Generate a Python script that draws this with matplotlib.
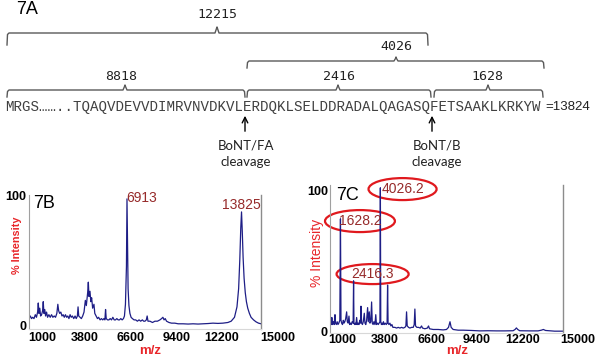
import matplotlib
matplotlib.use("Agg")
import matplotlib.pyplot as plt
import matplotlib.transforms as mtransforms
from matplotlib.patches import Ellipse

plt.rcParams['font.family'] = ['Liberation Sans', 'DejaVu Sans']

# ---- 7A: sequence map ----
seq_text = "MRGS……..TQAQVDEVVDIMRVNVDKVLERDQKLSELDDRADALQAGASQFETSAAKLKRKYW"
seq_mass = "=13824"
frag_labels = ["12215", "4026", "8818", "2416", "1628"]
cleave_labels = ["BoNT/FA\ncleavage", "BoNT/B\ncleavage"]

# ---- 7B: spectrum (m/z, % intensity) ----
b_mz = [1000, 1080, 1150, 1220, 1300, 1380, 1450, 1520, 1560, 1600, 1650, 1700, 1760, 1820, 1860,
        1900, 1950, 2000, 2060, 2120, 2200, 2280, 2360, 2440, 2520, 2600, 2680, 2740, 2790, 2850,
        2920, 2990, 3060, 3130, 3200, 3270, 3340, 3410, 3480, 3550, 3620, 3700, 3780, 3850, 3920,
        3960, 4000, 4080, 4160, 4240, 4320, 4400, 4460, 4540, 4580, 4620, 4680, 4730, 4780, 4840,
        4920, 4970, 5050, 5130, 5200, 5290, 5370, 5450, 5520, 5580, 5620, 5660, 5740, 5820, 5900,
        5980, 6060, 6140, 6220, 6300, 6380, 6460, 6540, 6620, 6700, 6760, 6820, 6880, 6913, 6945,
        6980, 7030, 7090, 7160, 7240, 7340, 7440, 7540, 7640, 7740, 7840, 7920, 8000, 8080, 8130,
        8180, 8300, 8450, 8600, 8750, 8900, 9000, 9080, 9150, 9220, 9300, 9450, 9600, 9800, 10000,
        10300, 10600, 10900, 11200, 11500, 11800, 12100, 12400, 12700, 13000, 13200, 13400, 13550,
        13650, 13720, 13780, 13825, 13870, 13920, 13980, 14050, 14120, 14200, 14300, 14400, 14550,
        14700, 14850, 15000]
b_int = [5, 7, 5, 6, 5, 8, 6, 10, 17, 9, 13, 7, 8, 11, 18,
         9, 12, 7, 10, 6, 8, 6, 8, 6, 7, 6, 9, 16, 11, 9,
         10, 7, 8, 6, 8, 6, 7, 5, 8, 6, 7, 5, 7, 5, 7,
         14, 7, 6, 5, 7, 10, 19, 15, 25, 33, 22, 26, 18, 21, 13,
         16, 9, 7, 5, 6, 4, 5, 4, 5, 4, 12, 5, 4, 4, 5,
         4, 6, 4, 4, 5, 4, 4, 5, 4, 5, 7, 16, 45, 97, 65,
         28, 15, 9, 6, 5, 4, 4, 3, 4, 3, 4, 3, 3, 4, 7,
         3, 3, 2, 3, 3, 4, 5, 6, 4, 5, 3, 2, 1.5, 1.5, 1,
         1, 0.8, 1, 0.8, 1, 1.2, 1.5, 1.3, 1.5, 2, 3, 6, 14,
         28, 50, 75, 87, 72, 52, 36, 25, 18, 13, 9, 6, 4,
         2.5, 1.5, 1]
b_peaks = ["6913", "13825"]
b_peak_mz = [6913, 13825]

# ---- 7C: spectrum ----
c_mz = [1000, 1040, 1080, 1110, 1140, 1200, 1250, 1300, 1330, 1380, 1430, 1480, 1530, 1590, 1628,
        1660, 1700, 1750, 1800, 1840, 1890, 1940, 2000, 2040, 2090, 2140, 2180, 2230, 2280, 2330,
        2390, 2416, 2440, 2480, 2520, 2560, 2600, 2640, 2690, 2740, 2790, 2830, 2860, 2900, 2950,
        3000, 3060, 3100, 3150, 3200, 3260, 3300, 3360, 3400, 3450, 3500, 3540, 3590, 3640, 3700,
        3750, 3790, 3850, 3900, 3950, 4000, 4026, 4050, 4090, 4130, 4170, 4210, 4260, 4320, 4380,
        4430, 4460, 4490, 4540, 4600, 4660, 4720, 4780, 4900, 5000, 5100, 5200, 5300, 5400, 5500,
        5560, 5600, 5640, 5720, 5800, 5900, 6000, 6060, 6100, 6140, 6220, 6320, 6420, 6500, 6560,
        6700, 6850, 6920, 6980, 7200, 7500, 7800, 8000, 8120, 8210, 8280, 8400, 8700, 9000, 9500,
        10000, 10500, 11000, 11500, 12000, 12120, 12200, 12280, 12400, 13000, 13500, 13700, 13820,
        13950, 14500, 15000]
c_int = [4, 6, 5, 10, 5, 7, 5, 12, 6, 5, 7, 5, 6, 8, 80,
         8, 6, 5, 8, 6, 7, 9, 14, 7, 6, 11, 5, 6, 5, 7,
         6, 36, 6, 5, 6, 5, 10, 5, 6, 5, 8, 6, 18, 6, 5,
         7, 13, 6, 5, 8, 17, 7, 14, 6, 7, 21, 6, 5, 7, 5,
         12, 5, 6, 5, 6, 7, 102, 7, 5, 6, 5, 7, 5, 6, 5,
         6, 33, 6, 5, 6, 4, 5, 3, 3, 2.5, 3, 2.5, 3, 2.5, 3,
         4, 14, 4, 3, 2.5, 3, 3, 5, 16, 4, 3, 3, 2.5, 4, 2.5,
         2, 2.5, 4, 2, 1.5, 1.5, 1.2, 1.5, 3, 7, 3, 1.5, 1, 1, 0.8,
         0.5, 0.6, 0.5, 0.5, 0.6, 1.5, 2.6, 1.5, 0.6, 0.5, 0.5, 1, 1.5,
         0.8, 0.3, 0.3]
c_peaks = ["1628.2", "2416.3", "4026.2"]

xticks = [1000, 3800, 6600, 9400, 12200, 15000]

line_col = '#1e1e86'
red = '#e8262a'
peak_col = '#962a2a'

fig = plt.figure(figsize=(6, 3.59), dpi=100)

# top panel drawn in pixel space
top = fig.add_axes([0, 0, 1, 1])
top.set_xlim(0, 600)
top.set_ylim(359, 0)
top.axis('off')

top.text(27, 10, "7A", fontsize=13, ha='center', va='center')

def brace(x0, x1, xc, y, drop, rise, label, ly, lx=None):
    xs = [x0, x0 + 0.5, x0 + 2, xc - 2, xc - 0.5, xc, xc + 0.5, xc + 2, x1 - 2, x1 - 0.5, x1]
    ys = [y + drop, y + 1.5, y, y, y - rise + 1.5, y - rise, y - rise + 1.5, y, y, y + 1.5, y + drop]
    top.plot(xs, ys, color='#595959', lw=1)
    top.text(xc if lx is None else lx, ly, label, fontsize=9.5, family='DejaVu Sans Mono',
             ha='center', va='center', color='#222222')

brace(7, 428, 217, 33, 12, 6, frag_labels[0], 14)
brace(247, 544, 396, 61, 7, 4, frag_labels[1], 47)
brace(7, 245, 125, 90, 7, 5, frag_labels[2], 77, 121)
brace(247, 431, 338, 90, 7, 5, frag_labels[3], 77, 339)
brace(434, 543, 488, 90, 7, 5, frag_labels[4], 77, 487)

top.text(5, 107, seq_text, family=['Liberation Mono', 'DejaVu Sans Mono'], fontsize=10.2,
         ha='left', va='center', color='#404040')
top.text(545, 107, seq_mass, fontsize=9.5, ha='left', va='center', color='#222222')

for x, tx, lab in zip([245, 432], [246, 437], cleave_labels):
    top.annotate('', xy=(x, 113), xytext=(x, 134),
                 arrowprops=dict(arrowstyle='->', color='black', lw=1))
    top.text(tx, 154, lab, fontsize=9.5, family='Lato', ha='center', va='center',
             linespacing=1.4, color='#222222')

def style_axes(ax, ylim, offsets_px, xpad, ypad):
    ax.set_xlim(1000, 15000)
    ax.set_ylim(*ylim)
    ax.set_facecolor('none')
    ax.set_xticks(xticks)
    ax.set_xticklabels([str(t) for t in xticks])
    ax.set_yticks([0, 100])
    ax.set_yticklabels(['0', '100'])
    ax.tick_params(length=0, labelsize=9, pad=xpad, axis='x')
    ax.tick_params(length=0, labelsize=9, pad=ypad, axis='y')
    for lab in ax.get_xticklabels() + ax.get_yticklabels():
        lab.set_fontweight('bold')
    for lab, dx in zip(ax.get_xticklabels(), offsets_px):
        lab.set_transform(lab.get_transform() + mtransforms.ScaledTranslation(dx / 100, 0, fig.dpi_scale_trans))
    ax.spines['top'].set_visible(False)
    ax.spines['left'].set_color('#a0a0a0')
    ax.spines['left'].set_linewidth(0.8)
    ax.spines['right'].set_color('#8c8c8c')
    ax.spines['right'].set_linewidth(1)
    ax.spines['bottom'].set_color('#d8d8d8')
    ax.spines['bottom'].set_linewidth(0.8)

# 7B
axB = fig.add_axes([29 / 600, 1 - 329 / 359, 232 / 600, 134 / 359])
axB.plot(b_mz, b_int, color=line_col, lw=0.9)
style_axes(axB, (-3, 100), [13, 9.5, 9, 8, 7, 17], 2.5, 2)
axB.set_ylabel('% Intensity', color=red, fontweight='bold', fontsize=7.8, va='center')
axB.yaxis.set_label_coords(-0.052, 0.627)
axB.set_xlabel('m/z', color=red, fontweight='bold', fontsize=9.5, va='center')
axB.xaxis.set_label_coords(0.522, -0.164)
axB.text(0.065, 0.933, '7B', transform=axB.transAxes, fontsize=13, ha='center', va='center')
axB.text(b_peak_mz[0] - 30, 97.5, b_peaks[0], color=peak_col, fontsize=10, ha='left', va='center')
axB.text(b_peak_mz[1], 92, b_peaks[1], color=peak_col, fontsize=10, ha='center', va='center')

# 7C
axC = fig.add_axes([330 / 600, 1 - 333 / 359, 233 / 600, 148 / 359])
axC.plot(c_mz, c_int, color=line_col, lw=0.9)
style_axes(axC, (-1, 104), [12, 8.5, 8, 6.5, 6, 15], 1, 1.5)
axC.set_ylabel('% Intensity', color=red, fontsize=10, va='center')
axC.yaxis.set_label_coords(-0.056, 0.54)
axC.set_xlabel('m/z', color=red, fontweight='bold', fontsize=9.5, va='center')
axC.xaxis.set_label_coords(0.545, -0.122)
axC.text(0.077, 0.926, '7C', transform=axC.transAxes, fontsize=13, ha='center', va='center')

# labels in ellipses: (text x, text y, ellipse width m/z, ellipse height %)
for lab, lx, ly, ew, eh in zip(c_peaks, [2800, 3560, 5360], [78.4, 40.8, 101.1],
                               [4200, 4330, 4090], [15.6, 14.2, 15.6]):
    axC.text(lx, ly, lab, color=peak_col, fontsize=10, ha='center', va='center')
    axC.add_patch(Ellipse((lx, ly), ew, eh, fill=False, edgecolor='#e0191e', lw=1.6, clip_on=False))

fig.savefig('out.png', dpi=100, facecolor='white')
